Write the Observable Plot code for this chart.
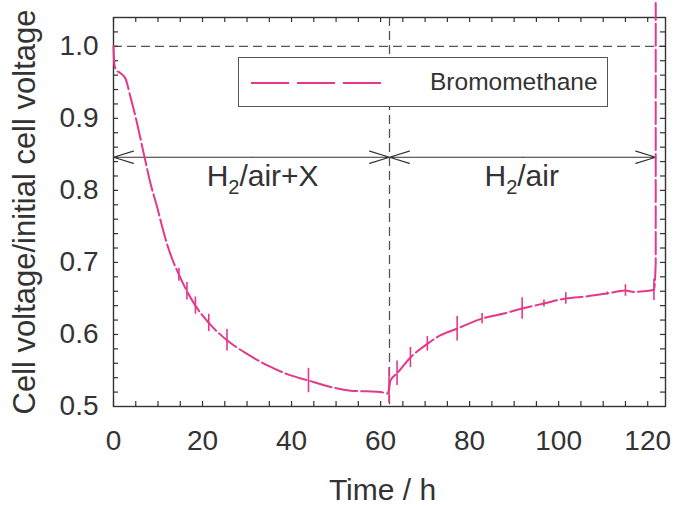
<!DOCTYPE html>
<html>
<head>
<meta charset="utf-8">
<script src="https://cdn.jsdelivr.net/npm/d3@7"></script>
<script src="https://cdn.jsdelivr.net/npm/@observablehq/plot@0.6"></script>
<style>
  body { margin: 0; background: #fff; }
  #wrap { position: relative; width: 673px; height: 506px; font-family: "Liberation Sans", Arial, sans-serif; }
  #legend { position: absolute; left: 238px; top: 57px; width: 368px; height: 48px; border: 1.3px solid #555; background: #fff; box-sizing: content-box; }
  #legend svg { position: absolute; left: 10px; top: 0; }
  #legend span { position: absolute; left: 191px; top: 0; line-height: 48px; font-size: 24.5px; color: #333; }
</style>
</head>
<body>
<div id="wrap"><div id="legend"><svg width="140" height="48"><line x1="2" x2="136" y1="25" y2="25" stroke="#e3388c" stroke-width="2.2" stroke-dasharray="38,8"/></svg><span>Bromomethane</span></div></div>
<script>
// Series: Bromomethane, cell voltage / initial cell voltage vs time (h)
const timeH = [0, 0.2, 0.6, 1.5, 2.7, 3.8, 5.3, 6.8, 8.3, 9.8, 11.0, 12.0, 13.3, 14.7, 16.5, 18.4, 21.4, 25.5, 30.0, 34.6, 39.0, 43.8, 48.8, 53.3, 57.0, 60.0, 61.6, 61.9, 62.2, 63.7, 66.7, 70.5, 73.5, 77.2, 82.8, 87.7, 91.8, 96.7, 101.6, 106.5, 110.9, 115.0, 116.9, 119.2, 121.4, 121.8, 121.8];
const voltage = [1.0, 0.975, 0.967, 0.963, 0.955, 0.930, 0.893, 0.851, 0.810, 0.777, 0.748, 0.726, 0.703, 0.683, 0.660, 0.640, 0.616, 0.592, 0.573, 0.557, 0.545, 0.536, 0.527, 0.522, 0.521, 0.520, 0.518, 0.525, 0.536, 0.546, 0.568, 0.587, 0.599, 0.608, 0.622, 0.629, 0.636, 0.643, 0.650, 0.653, 0.657, 0.661, 0.659, 0.660, 0.662, 0.700, 1.06];

// Error bars: time, centre value, half-range
const errTime = [14.7, 16.5, 18.4, 21.4, 25.5, 43.8, 61.9, 63.7, 66.7, 70.5, 77.2, 82.8, 91.8, 96.7, 101.6, 110.9, 115.0, 121.4];
const errMid  = [0.683, 0.660, 0.640, 0.616, 0.592, 0.536, 0.529, 0.546, 0.568, 0.587, 0.608, 0.622, 0.636, 0.643, 0.650, 0.657, 0.661, 0.662];
const errHalf = [0.009, 0.012, 0.012, 0.012, 0.015, 0.017, 0.025, 0.017, 0.014, 0.010, 0.017, 0.007, 0.015, 0.005, 0.008, 0.002, 0.008, 0.015];

// Reference lines
const refY = [1.0];
const refX = [62];

// Gas-phase arrows and labels
const arrowFrom = [31, 31, 92, 92];
const arrowTo   = [0, 62, 62, 121.8];
const arrowY = 0.846;
const phaseLabels = ["H2/air+X", "H2/air"];
const phaseX = [33.5, 91.7];
const phaseY = [0.819, 0.819];

// Axes
const xDomain = [0, 124];
const yDomain = [0.5, 1.04];
const xMajor = [0, 20, 40, 60, 80, 100, 120];
const xMinor = [0, 5, 10, 15, 20, 25, 30, 35, 40, 45, 50, 55, 60, 65, 70, 75, 80, 85, 90, 95, 100, 105, 110, 115, 120];
const yMajor = [0.5, 0.6, 0.7, 0.8, 0.9, 1.0];
const yMinor = [0.52, 0.54, 0.56, 0.58, 0.6, 0.62, 0.64, 0.66, 0.68, 0.7, 0.72, 0.74, 0.76, 0.78, 0.8, 0.82, 0.84, 0.86, 0.88, 0.9, 0.92, 0.94, 0.96, 0.98, 1.0, 1.02];
const xTitle = "Time / h";
const yTitle = "Cell voltage/initial cell voltage";

const pink = "#e3388c";
const ink = "#333";
const W = 673, H = 506;
const mL = 113, mR = 8, mT = 17, mB = 100;
const plotW = W - mL - mR, plotH = H - mT - mB;
const tl = 5;

const curve = timeH.map((t, i) => ({t, v: voltage[i]}));
const errs = errTime.map((t, i) => ({t, lo: errMid[i] - errHalf[i], hi: errMid[i] + errHalf[i]}));
const arrows = arrowFrom.map((a, i) => ({x1: a, x2: arrowTo[i], y: arrowY}));
const labels = phaseLabels.map((s, i) => ({s, x: phaseX[i], y: phaseY[i]}));

const chart = Plot.plot({
  width: W, height: H,
  marginLeft: mL, marginRight: mR, marginTop: mT, marginBottom: mB,
  style: {fontFamily: '"Liberation Sans", Arial, sans-serif', color: ink, background: "transparent", overflow: "visible"},
  x: {domain: xDomain},
  y: {domain: yDomain},
  marks: [
    Plot.ruleY(refY, {stroke: "#555", strokeWidth: 1.3, strokeDasharray: "9,5"}),
    Plot.ruleX(refX, {stroke: "#555", strokeWidth: 1.3, strokeDasharray: "9,5"}),
    // inward ticks
    Plot.ruleX(xMinor, {insetTop: plotH - tl, stroke: ink, strokeWidth: 1.2}),
    Plot.ruleX(xMinor, {insetBottom: plotH - tl, stroke: ink, strokeWidth: 1.2}),
    Plot.ruleY(yMinor, {insetRight: plotW - tl, stroke: ink, strokeWidth: 1.2}),
    Plot.ruleY(yMinor, {insetLeft: plotW - tl, stroke: ink, strokeWidth: 1.2}),
    Plot.axisX({ticks: xMajor, tickSize: 0, tickPadding: 24, fontSize: 28, label: null, tickFormat: d => String(d)}),
    Plot.axisY({ticks: yMajor, tickSize: 0, tickPadding: 15, fontSize: 28, label: null, tickFormat: d3.format(".1f")}),
    Plot.frame({stroke: ink, strokeWidth: 1.4}),
    Plot.arrow(arrows, {x1: "x1", y1: "y", x2: "x2", y2: "y", stroke: ink, strokeWidth: 1.2, headLength: 26, headAngle: 34}),
    Plot.text(labels, {x: "x", y: "y", text: "s", fontSize: 30, fill: ink, textAnchor: "middle"}),
    Plot.line(curve, {x: "t", y: "v", stroke: pink, strokeWidth: 2, strokeDasharray: "22,4", curve: "monotone-x"}),
    Plot.ruleX(errs, {x: "t", y1: "lo", y2: "hi", stroke: pink, strokeWidth: 1.6}),
    Plot.text([xTitle], {frameAnchor: "bottom", dx: -7, dy: 84, fontSize: 30, fill: ink, textAnchor: "middle", lineAnchor: "middle"}),
    Plot.text([yTitle], {frameAnchor: "left", dx: -88, rotate: -90, fontSize: 31, fill: ink, textAnchor: "middle", lineAnchor: "middle"})
  ]
});

// subscript "2" in H2 labels
d3.select(chart).selectAll("text").each(function() {
  const el = d3.select(this);
  if (this.childElementCount === 0 && /^H2\//.test(this.textContent)) {
    const rest = this.textContent.slice(2);
    el.text(null);
    el.append("tspan").text("H");
    el.append("tspan").attr("font-size", 20).attr("dy", 8).text("2");
    el.append("tspan").attr("dy", -8).text(rest);
  }
});

const wrap = document.getElementById("wrap");
wrap.insertBefore(chart, wrap.firstChild);
</script>
</body>
</html>
